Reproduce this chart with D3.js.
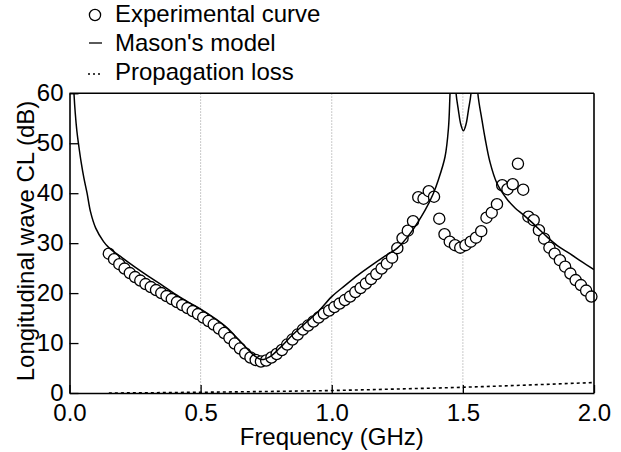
<!DOCTYPE html>
<html>
<head>
<meta charset="utf-8">
<script src="https://cdn.jsdelivr.net/npm/d3@7"></script>
<style>
  html, body { margin: 0; padding: 0; background: #fff; }
  svg { display: block; font-family: "Liberation Sans", Arial, sans-serif; }
</style>
</head>
<body>
<svg id="chart" width="621" height="452"></svg>
<script>
// ---------- data ----------
const expFreq = [
  0.15, 0.17, 0.19, 0.21, 0.23, 0.25, 0.27, 0.29, 0.31, 0.33,
  0.35, 0.37, 0.39, 0.41, 0.43, 0.45, 0.47, 0.49, 0.51, 0.53,
  0.55, 0.57, 0.59, 0.61, 0.63, 0.65, 0.67, 0.69, 0.71, 0.73,
  0.75, 0.77, 0.79, 0.81, 0.83, 0.85, 0.87, 0.89, 0.91, 0.93,
  0.95, 0.97, 0.99, 1.01, 1.03, 1.05, 1.07, 1.09, 1.11, 1.13,
  1.15, 1.17, 1.19, 1.21, 1.23, 1.25, 1.27, 1.29, 1.31, 1.33,
  1.35, 1.37, 1.39, 1.41, 1.43, 1.45, 1.47, 1.49, 1.51, 1.53,
  1.55, 1.57, 1.59, 1.61, 1.63, 1.65, 1.67, 1.69, 1.71, 1.73,
  1.75, 1.77, 1.79, 1.81, 1.83, 1.85, 1.87, 1.89, 1.91, 1.93,
  1.95, 1.97, 1.99
];
const expCL = [
  27.9, 26.8, 25.8, 24.9, 24.0, 23.2, 22.5, 21.8, 21.2, 20.6,
  20.0, 19.4, 18.8, 18.2, 17.6, 17.0, 16.4, 15.8, 15.1, 14.4,
  13.7, 12.9, 12.0, 11.0, 9.9, 8.9, 7.9, 7.1, 6.6, 6.3,
  6.5, 7.1, 7.8, 8.6, 9.7, 10.7, 11.7, 12.7, 13.5, 14.3,
  15.1, 15.9, 16.5, 17.2, 17.9, 18.6, 19.3, 20.2, 21.0, 21.9,
  22.8, 23.8, 24.9, 25.9, 27.1, 29.0, 31.0, 32.5, 34.4, 39.2,
  38.9, 40.4, 39.3, 34.9, 31.8, 30.3, 29.6, 29.1, 29.6, 30.3,
  31.1, 32.4, 35.1, 36.1, 37.8, 41.6, 40.8, 41.8, 45.9, 40.7,
  35.3, 34.6, 32.6, 30.9, 29.1, 27.9, 26.6, 25.3, 23.9, 22.6,
  21.6, 20.5, 19.3
];

const masonFreq = [
  0.010, 0.017, 0.022, 0.028, 0.034, 0.045, 0.055, 0.067, 0.080, 0.100,
  0.130, 0.150, 0.200, 0.250, 0.300, 0.350, 0.400, 0.450, 0.500, 0.550,
  0.600, 0.650, 0.700, 0.733, 0.765, 0.800, 0.850, 0.900, 0.950, 1.000,
  1.050, 1.100, 1.150, 1.200, 1.250, 1.300, 1.356, 1.387, 1.406, 1.432,
  1.445, 1.451, 1.462, 1.474, 1.483, 1.492, 1.502, 1.512, 1.521, 1.531,
  1.544, 1.557, 1.572, 1.585, 1.603, 1.629, 1.667, 1.700, 1.730, 1.760,
  1.820, 1.860, 1.908, 1.950, 2.000
];
const masonCL = [
  68, 60, 56, 52.5, 50, 46, 43, 40, 36.3, 33.0,
  30.3, 29.1, 27.1, 25.2, 23.4, 21.7, 19.9, 18.3, 16.8, 15.1,
  13.1, 10.4, 7.7, 6.7, 7.3, 8.9, 11.6, 14.0, 16.4, 19.3,
  21.5, 23.6, 25.5, 27.3, 29.0, 32.0, 36.6, 39.9, 42.6, 47.3,
  53, 60, 75, 60, 56.6, 53.8, 52.5, 53.8, 56.6, 60,
  75, 60, 54.9, 50.9, 46.3, 42.1, 38.9, 37.0, 35.7, 34.3,
  31.3, 29.5, 27.9, 26.4, 24.7
];

const lossFreq = [0.15, 0.30, 0.50, 0.75, 1.00, 1.25, 1.50, 1.75, 2.00];
const lossCL   = [0.00, 0.05, 0.15, 0.30, 0.50, 0.80, 1.15, 1.60, 2.10];

const xTicks = [0.0, 0.5, 1.0, 1.5, 2.0];
const yTicks = [0, 10, 20, 30, 40, 50, 60];
const gridX  = [0.5, 1.0, 1.5];
const legendLabels = ["Experimental curve", "Mason's model", "Propagation loss"];
const xTitle = "Frequency (GHz)";
const yTitle = "Longitudinal wave CL (dB)";

// ---------- layout ----------
const svg = d3.select("#chart");
const L = 69.5, R = 594, T = 93.3, B = 393;
const x = d3.scaleLinear().domain([0, 2]).range([L, R]);
const y = d3.scaleLinear().domain([0, 60]).range([B, T]);

svg.append("defs").append("clipPath").attr("id", "plotclip")
  .append("rect").attr("x", L).attr("y", T).attr("width", R - L).attr("height", B - T);

// grid
svg.append("g").selectAll("line").data(gridX).join("line")
  .attr("x1", d => x(d)).attr("x2", d => x(d))
  .attr("y1", T).attr("y2", B)
  .attr("stroke", "#b8b8b8").attr("stroke-width", 1)
  .attr("stroke-dasharray", "1.5,1.5");

// propagation loss
const lossData = lossFreq.map((f, i) => [f, lossCL[i]]);
svg.append("path").datum(lossData)
  .attr("clip-path", "url(#plotclip)")
  .attr("fill", "none").attr("stroke", "#000").attr("stroke-width", 1.6)
  .attr("stroke-dasharray", "3,3")
  .attr("d", d3.line().x(d => x(d[0])).y(d => y(d[1])).curve(d3.curveMonotoneX));

// experimental circles
const expData = expFreq.map((f, i) => [f, expCL[i]]);
svg.append("g").selectAll("circle").data(expData).join("circle")
  .attr("cx", d => x(d[0])).attr("cy", d => y(d[1])).attr("r", 5.6)
  .attr("fill", "#fff").attr("stroke", "#000").attr("stroke-width", 1.3);

// Mason's model
const masonData = masonFreq.map((f, i) => [f, masonCL[i]]);
svg.append("path").datum(masonData)
  .attr("clip-path", "url(#plotclip)")
  .attr("fill", "none").attr("stroke", "#000").attr("stroke-width", 1.5)
  .attr("d", d3.line().x(d => x(d[0])).y(d => y(d[1])).curve(d3.curveCatmullRom.alpha(0.5)));

// axes
const xAxis = svg.append("g").attr("transform", `translate(0,${B})`)
  .call(d3.axisBottom(x).tickValues(xTicks).tickFormat(d3.format(".1f"))
    .tickSizeInner(-8).tickSizeOuter(0).tickPadding(11));
const yAxis = svg.append("g").attr("transform", `translate(${L},0)`)
  .call(d3.axisLeft(y).tickValues(yTicks).tickFormat(d3.format("d"))
    .tickSizeInner(-9).tickSizeOuter(0).tickPadding(6));
[xAxis, yAxis].forEach(g => {
  g.selectAll("text").attr("font-size", 24).attr("fill", "#000")
    .attr("font-family", "'Liberation Sans', Arial, sans-serif");
  g.selectAll("line").attr("stroke", "#000").attr("stroke-width", 1.3);
  g.select(".domain").attr("stroke", "#000").attr("stroke-width", 1.6);
});
// frame top and right
svg.append("line").attr("x1", L).attr("x2", R).attr("y1", T).attr("y2", T)
  .attr("stroke", "#000").attr("stroke-width", 1.6);
svg.append("line").attr("x1", R).attr("x2", R).attr("y1", T).attr("y2", B)
  .attr("stroke", "#000").attr("stroke-width", 1.6);

// titles
svg.append("text").attr("x", (L + R) / 2).attr("y", 445)
  .attr("text-anchor", "middle").attr("font-size", 24).text(xTitle);
svg.append("text").attr("transform", `translate(34,241) rotate(-90)`)
  .attr("text-anchor", "middle").attr("font-size", 24).text(yTitle);

// legend
const lg = svg.append("g");
lg.append("circle").attr("cx", 95).attr("cy", 15).attr("r", 5.6)
  .attr("fill", "#fff").attr("stroke", "#000").attr("stroke-width", 1.3);
lg.append("line").attr("x1", 89).attr("x2", 102).attr("y1", 43).attr("y2", 43)
  .attr("stroke", "#000").attr("stroke-width", 1.3);
lg.append("line").attr("x1", 88).attr("x2", 103).attr("y1", 74).attr("y2", 74)
  .attr("stroke", "#000").attr("stroke-width", 1.3).attr("stroke-dasharray", "2,3");
const baselines = [22, 51, 80];
lg.selectAll("text.lab").data(legendLabels).join("text").attr("class", "lab")
  .attr("x", 115).attr("y", (d, i) => baselines[i])
  .attr("font-size", 24).text(d => d);
</script>
</body>
</html>
